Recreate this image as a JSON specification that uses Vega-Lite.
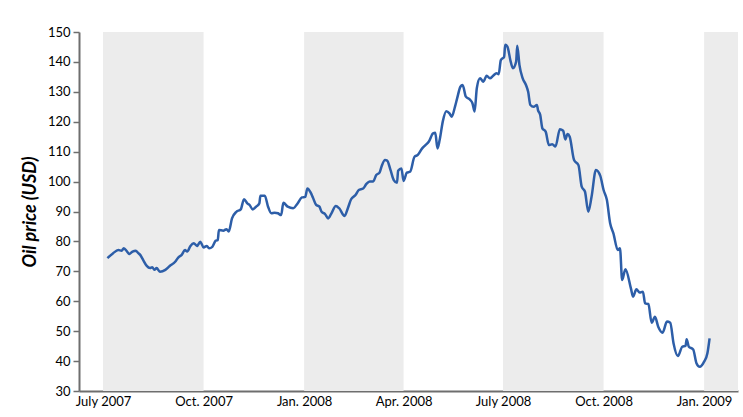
{
  "$schema": "https://vega.github.io/schema/vega-lite/v6.json",
  "width": 659,
  "height": 359,
  "autosize": {"type": "none"},
  "padding": {"left": 79, "top": 32, "right": 5, "bottom": 26},
  "background": "white",
  "config": {"view": {"stroke": null}, "font": "Lato"},
  "datasets": {
    "bands": [
      {"start": "2007-07-01", "end": "2007-10-01"},
      {"start": "2008-01-01", "end": "2008-04-01"},
      {"start": "2008-07-01", "end": "2008-10-01"},
      {"start": "2009-01-01", "end": "2009-02-01"}
    ],
    "oil": [
      {"date": "2007-07-05", "price": 74.4},
      {"date": "2007-07-10", "price": 76.0},
      {"date": "2007-07-15", "price": 77.1},
      {"date": "2007-07-18", "price": 76.9},
      {"date": "2007-07-20", "price": 77.7},
      {"date": "2007-07-23", "price": 76.6},
      {"date": "2007-07-25", "price": 75.8},
      {"date": "2007-07-28", "price": 76.6},
      {"date": "2007-07-31", "price": 76.9},
      {"date": "2007-08-02", "price": 76.2},
      {"date": "2007-08-04", "price": 75.5},
      {"date": "2007-08-07", "price": 73.6},
      {"date": "2007-08-10", "price": 71.8},
      {"date": "2007-08-13", "price": 71.1},
      {"date": "2007-08-15", "price": 71.4},
      {"date": "2007-08-17", "price": 70.5},
      {"date": "2007-08-19", "price": 71.1},
      {"date": "2007-08-22", "price": 69.9},
      {"date": "2007-08-27", "price": 70.5},
      {"date": "2007-08-31", "price": 71.8},
      {"date": "2007-09-05", "price": 73.2},
      {"date": "2007-09-08", "price": 74.7},
      {"date": "2007-09-11", "price": 75.5},
      {"date": "2007-09-14", "price": 77.1},
      {"date": "2007-09-16", "price": 76.6},
      {"date": "2007-09-19", "price": 78.5},
      {"date": "2007-09-22", "price": 79.4},
      {"date": "2007-09-25", "price": 78.5},
      {"date": "2007-09-28", "price": 79.9},
      {"date": "2007-10-01", "price": 78.0},
      {"date": "2007-10-04", "price": 78.5},
      {"date": "2007-10-06", "price": 77.7},
      {"date": "2007-10-09", "price": 78.2},
      {"date": "2007-10-12", "price": 80.2},
      {"date": "2007-10-14", "price": 80.5},
      {"date": "2007-10-15", "price": 83.8},
      {"date": "2007-10-19", "price": 83.6},
      {"date": "2007-10-22", "price": 84.1},
      {"date": "2007-10-24", "price": 83.3},
      {"date": "2007-10-27", "price": 87.7},
      {"date": "2007-10-31", "price": 89.9},
      {"date": "2007-11-04", "price": 90.7},
      {"date": "2007-11-07", "price": 94.1},
      {"date": "2007-11-10", "price": 92.7},
      {"date": "2007-11-12", "price": 92.2},
      {"date": "2007-11-15", "price": 90.7},
      {"date": "2007-11-18", "price": 91.6},
      {"date": "2007-11-21", "price": 92.7},
      {"date": "2007-11-22", "price": 95.3},
      {"date": "2007-11-26", "price": 95.3},
      {"date": "2007-11-29", "price": 91.6},
      {"date": "2007-12-02", "price": 89.4},
      {"date": "2007-12-05", "price": 89.6},
      {"date": "2007-12-08", "price": 89.4},
      {"date": "2007-12-11", "price": 88.8},
      {"date": "2007-12-13", "price": 92.9},
      {"date": "2007-12-17", "price": 91.6},
      {"date": "2007-12-22", "price": 91.1},
      {"date": "2007-12-26", "price": 92.7},
      {"date": "2007-12-30", "price": 94.7},
      {"date": "2008-01-02", "price": 94.9},
      {"date": "2008-01-04", "price": 97.7},
      {"date": "2008-01-07", "price": 96.3},
      {"date": "2008-01-09", "price": 94.7},
      {"date": "2008-01-12", "price": 92.2},
      {"date": "2008-01-15", "price": 91.6},
      {"date": "2008-01-17", "price": 89.9},
      {"date": "2008-01-20", "price": 89.2},
      {"date": "2008-01-23", "price": 87.7},
      {"date": "2008-01-26", "price": 89.4},
      {"date": "2008-01-30", "price": 91.8},
      {"date": "2008-02-02", "price": 91.1},
      {"date": "2008-02-07", "price": 88.5},
      {"date": "2008-02-10", "price": 91.1},
      {"date": "2008-02-13", "price": 94.1},
      {"date": "2008-02-17", "price": 95.5},
      {"date": "2008-02-20", "price": 97.2},
      {"date": "2008-02-24", "price": 97.7},
      {"date": "2008-02-27", "price": 99.2},
      {"date": "2008-03-01", "price": 100.0},
      {"date": "2008-03-04", "price": 100.0},
      {"date": "2008-03-07", "price": 102.2},
      {"date": "2008-03-10", "price": 103.0},
      {"date": "2008-03-12", "price": 105.2},
      {"date": "2008-03-15", "price": 107.2},
      {"date": "2008-03-17", "price": 107.0},
      {"date": "2008-03-20", "price": 103.9},
      {"date": "2008-03-23", "price": 100.5},
      {"date": "2008-03-26", "price": 99.6},
      {"date": "2008-03-27", "price": 103.6},
      {"date": "2008-03-30", "price": 104.4},
      {"date": "2008-04-01", "price": 100.2},
      {"date": "2008-04-04", "price": 103.0},
      {"date": "2008-04-07", "price": 103.3},
      {"date": "2008-04-11", "price": 108.3},
      {"date": "2008-04-14", "price": 108.9},
      {"date": "2008-04-18", "price": 111.1},
      {"date": "2008-04-21", "price": 112.2},
      {"date": "2008-04-24", "price": 113.3},
      {"date": "2008-04-28", "price": 116.1},
      {"date": "2008-04-30", "price": 116.3},
      {"date": "2008-05-02", "price": 111.1},
      {"date": "2008-05-04", "price": 113.9},
      {"date": "2008-05-07", "price": 120.3},
      {"date": "2008-05-10", "price": 123.5},
      {"date": "2008-05-13", "price": 122.8},
      {"date": "2008-05-15", "price": 121.7},
      {"date": "2008-05-18", "price": 125.0},
      {"date": "2008-05-20", "price": 127.8},
      {"date": "2008-05-23", "price": 131.7},
      {"date": "2008-05-25", "price": 132.3},
      {"date": "2008-05-28", "price": 128.4},
      {"date": "2008-06-01", "price": 127.3},
      {"date": "2008-06-03", "price": 126.2},
      {"date": "2008-06-05", "price": 123.4},
      {"date": "2008-06-07", "price": 131.2},
      {"date": "2008-06-10", "price": 134.5},
      {"date": "2008-06-13", "price": 133.4},
      {"date": "2008-06-16", "price": 135.4},
      {"date": "2008-06-19", "price": 134.5},
      {"date": "2008-06-22", "price": 135.4},
      {"date": "2008-06-25", "price": 136.2},
      {"date": "2008-06-27", "price": 135.9},
      {"date": "2008-06-29", "price": 140.6},
      {"date": "2008-07-02", "price": 141.7},
      {"date": "2008-07-03", "price": 145.7},
      {"date": "2008-07-05", "price": 145.1},
      {"date": "2008-07-08", "price": 140.1},
      {"date": "2008-07-10", "price": 137.9},
      {"date": "2008-07-13", "price": 140.1},
      {"date": "2008-07-14", "price": 145.4},
      {"date": "2008-07-16", "price": 139.0},
      {"date": "2008-07-19", "price": 134.5},
      {"date": "2008-07-22", "price": 132.3},
      {"date": "2008-07-24", "price": 130.0},
      {"date": "2008-07-26", "price": 125.6},
      {"date": "2008-07-29", "price": 125.0},
      {"date": "2008-08-01", "price": 125.6},
      {"date": "2008-08-02", "price": 123.9},
      {"date": "2008-08-04", "price": 122.3},
      {"date": "2008-08-06", "price": 117.8},
      {"date": "2008-08-09", "price": 116.7},
      {"date": "2008-08-12", "price": 112.2},
      {"date": "2008-08-15", "price": 112.5},
      {"date": "2008-08-18", "price": 111.7},
      {"date": "2008-08-22", "price": 117.5},
      {"date": "2008-08-25", "price": 117.0},
      {"date": "2008-08-27", "price": 114.1},
      {"date": "2008-08-29", "price": 115.9},
      {"date": "2008-08-31", "price": 115.0},
      {"date": "2008-09-04", "price": 107.2},
      {"date": "2008-09-08", "price": 105.5},
      {"date": "2008-09-11", "price": 98.3},
      {"date": "2008-09-14", "price": 96.6},
      {"date": "2008-09-17", "price": 89.9},
      {"date": "2008-09-20", "price": 94.9},
      {"date": "2008-09-24", "price": 103.9},
      {"date": "2008-09-28", "price": 101.9},
      {"date": "2008-10-01", "price": 97.2},
      {"date": "2008-10-04", "price": 93.9},
      {"date": "2008-10-07", "price": 86.1},
      {"date": "2008-10-10", "price": 82.7},
      {"date": "2008-10-14", "price": 77.1},
      {"date": "2008-10-16", "price": 77.7},
      {"date": "2008-10-18", "price": 67.1},
      {"date": "2008-10-21", "price": 70.7},
      {"date": "2008-10-26", "price": 64.3},
      {"date": "2008-10-28", "price": 61.5},
      {"date": "2008-10-31", "price": 64.0},
      {"date": "2008-11-03", "price": 62.9},
      {"date": "2008-11-06", "price": 63.2},
      {"date": "2008-11-08", "price": 59.3},
      {"date": "2008-11-11", "price": 59.1},
      {"date": "2008-11-14", "price": 52.8},
      {"date": "2008-11-17", "price": 54.8},
      {"date": "2008-11-20", "price": 51.5},
      {"date": "2008-11-24", "price": 49.5},
      {"date": "2008-11-28", "price": 53.2},
      {"date": "2008-12-01", "price": 52.8},
      {"date": "2008-12-04", "price": 46.0},
      {"date": "2008-12-08", "price": 41.7},
      {"date": "2008-12-12", "price": 44.8},
      {"date": "2008-12-15", "price": 45.1},
      {"date": "2008-12-16", "price": 47.3},
      {"date": "2008-12-18", "price": 44.8},
      {"date": "2008-12-22", "price": 43.9},
      {"date": "2008-12-25", "price": 39.3},
      {"date": "2008-12-28", "price": 38.1},
      {"date": "2009-01-01", "price": 39.8},
      {"date": "2009-01-04", "price": 42.6},
      {"date": "2009-01-06", "price": 47.6}
    ]
  },
  "layer": [
    {
      "data": {"name": "bands"},
      "mark": {"type": "rect", "color": "#ececec"},
      "encoding": {
        "x": {"field": "start", "type": "temporal"},
        "x2": {"field": "end"}
      }
    },
    {
      "data": {"name": "oil"},
      "mark": {"type": "line", "color": "#2d5ea8", "strokeWidth": 2.5, "interpolate": "monotone"},
      "encoding": {
        "x": {
          "field": "date",
          "type": "temporal",
          "scale": {"type": "utc", "domain": [{"year": 2007, "month": 6, "date": 9, "utc": true}, {"year": 2009, "month": 2, "date": 1, "utc": true}]},
          "axis": {
            "title": null,
            "values": [
              {"year": 2007, "month": 7, "date": 1, "utc": true},
              {"year": 2007, "month": 10, "date": 1, "utc": true},
              {"year": 2008, "month": 1, "date": 1, "utc": true},
              {"year": 2008, "month": 4, "date": 1, "utc": true},
              {"year": 2008, "month": 7, "date": 1, "utc": true},
              {"year": 2008, "month": 10, "date": 1, "utc": true},
              {"year": 2009, "month": 1, "date": 1, "utc": true}
            ],
            "labelExpr": "(utcmonth(datum.value)==6?'July':utcmonth(datum.value)==9?'Oct.':utcmonth(datum.value)==0?'Jan.':'Apr.') + ' ' + utcyear(datum.value)",
            "ticks": false,
            "grid": false,
            "domainColor": "#6e6e6e",
            "domainWidth": 2,
            "labelColor": "#000000",
            "labelFontSize": 13,
            "labelPadding": 4,
            "labelFlush": false
          }
        },
        "y": {
          "field": "price",
          "type": "quantitative",
          "scale": {"domain": [30, 150], "nice": false, "zero": false},
          "axis": {
            "title": "Oil price (USD)",
            "titleFontStyle": "italic",
            "titleFontWeight": "bold",
            "titleFontSize": 18,
            "titleColor": "#000000",
            "titlePadding": 8,
            "values": [30, 40, 50, 60, 70, 80, 90, 100, 110, 120, 130, 140, 150],
            "grid": false,
            "tickSize": 6,
            "tickColor": "#6e6e6e",
            "tickWidth": 1.5,
            "domainColor": "#6e6e6e",
            "domainWidth": 2,
            "labelColor": "#000000",
            "labelFontSize": 13,
            "labelPadding": 3
          }
        }
      }
    }
  ]
}
